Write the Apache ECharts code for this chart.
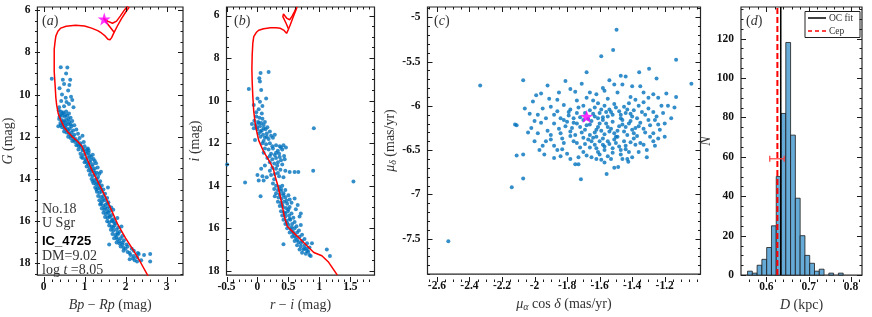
<!DOCTYPE html>
<html><head><meta charset="utf-8">
<script src="https://cdn.jsdelivr.net/npm/echarts@6/dist/echarts.min.js"></script>
<style>html,body{margin:0;padding:0;background:#fff}#c{width:872px;height:317px}</style>
</head><body><div id="c"></div>
<script>
// ---------- Panel (a): Gaia CMD ----------
const aStars = [
[0.2,9.25],[0.42,8.7],[0.58,8.72],[0.55,9.0],[0.47,9.3],[0.5,9.5],[0.63,9.55],[0.39,9.7],[0.6,9.8],[0.67,10.1],[0.54,10.15],[0.7,10.25],[0.43,10.3],[0.62,10.45],[0.5,10.55],[0.38,10.6],[0.73,10.6],[0.56,10.35],[0.45,10.0],[0.65,9.3],
[0.37,10.75],[0.42,10.8],[0.48,10.85],[0.55,10.8],[0.62,10.9],[0.4,10.95],[0.45,11.0],[0.52,11.05],[0.58,11.0],[0.66,11.1],[0.38,11.15],[0.44,11.2],[0.5,11.25],[0.56,11.2],[0.63,11.3],[0.7,11.25],[0.41,11.35],[0.47,11.4],[0.53,11.45],[0.6,11.4],[0.68,11.5],[0.75,11.45],[0.36,11.5],[0.45,11.55],[0.51,11.6],[0.58,11.65],[0.64,11.6],[0.72,11.7],[0.8,11.65],[0.5,11.75],[0.56,11.8],[0.62,11.85],[0.68,11.8],[0.75,11.9],[0.84,11.85],[0.6,12.0],[0.66,12.05],[0.72,12.0],[0.78,12.1],[0.88,12.05],[0.95,11.95],[0.7,12.2],[0.77,12.25],[0.83,12.2],[0.9,12.3],[0.98,12.25],
[0.8,12.4],[0.86,12.45],[0.92,12.5],[1.0,12.45],[1.08,12.55],[0.85,12.6],[0.95,12.65],[1.02,12.7],[1.1,12.65],[0.9,12.8],[0.98,12.85],[1.05,12.8],[1.12,12.9],[1.2,12.85],[0.95,13.0],[1.02,13.05],[1.08,13.0],[1.15,13.1],[1.22,13.05],[1.0,13.2],[1.07,13.25],[1.13,13.2],[1.2,13.3],[1.28,13.25],[1.05,13.4],[1.12,13.45],[1.18,13.4],[1.25,13.5],[1.32,13.45],[1.1,13.6],[1.16,13.65],[1.22,13.6],[1.3,13.7],[1.4,13.65],
[1.13,13.8],[1.2,13.85],[1.26,13.8],[1.33,13.9],[1.17,14.0],[1.24,14.05],[1.3,14.0],[1.38,14.1],[1.22,14.2],[1.28,14.25],[1.35,14.2],[1.42,14.3],[1.26,14.4],[1.32,14.45],[1.38,14.4],[1.46,14.5],[1.57,14.4],[1.3,14.6],[1.36,14.65],[1.42,14.6],[1.5,14.7],[1.33,14.8],[1.4,14.85],[1.46,14.8],[1.55,14.9],[1.36,15.0],[1.43,15.05],[1.5,15.0],[1.58,15.1],
[1.38,15.2],[1.45,15.25],[1.52,15.2],[1.6,15.3],[1.42,15.4],[1.48,15.45],[1.55,15.4],[1.62,15.5],[1.7,15.45],[1.46,15.6],[1.52,15.65],[1.58,15.6],[1.66,15.7],[1.5,15.8],[1.56,15.85],[1.62,15.8],[1.7,15.9],[1.8,15.85],[1.55,16.0],[1.6,16.05],[1.67,16.0],[1.75,16.1],[1.6,16.2],[1.66,16.25],[1.73,16.2],[1.82,16.3],[1.9,16.25],[1.64,16.4],[1.7,16.45],[1.78,16.4],[1.86,16.5],[1.68,16.6],[1.75,16.65],[1.82,16.6],[1.92,16.7],
[1.72,16.8],[1.8,16.85],[1.88,16.8],[1.96,16.9],[1.78,17.0],[1.85,17.05],[1.93,17.0],[2.02,17.1],[1.6,17.1],[1.88,17.2],[1.95,17.25],[2.05,17.2],[2.15,17.3],[1.95,17.4],[2.05,17.45],[2.2,17.4],[2.3,17.5],[2.12,17.6],[2.2,17.65],[2.32,17.55],[2.45,17.6],[2.6,17.55],[2.22,17.85],[2.28,17.9],[2.38,17.85],[2.6,17.9],[2.1,17.8],
[0.46,10.9],[0.53,10.95],[0.39,11.05],[0.61,11.15],[0.48,11.3],[0.55,11.35],[0.42,11.45],[0.66,11.4],[0.54,11.55],[0.6,11.7],[0.67,11.95],[0.74,12.15],[0.84,12.35],[0.9,12.4],[0.97,12.6],[1.06,12.6],[0.92,12.95],[1.1,12.75],[1.16,12.95],[1.03,13.15],[1.25,13.15],[1.1,13.3],[1.17,13.55],[1.24,13.7],[1.36,13.75],[1.3,14.15],[1.2,14.1],[1.34,14.3],[1.4,14.5],[1.29,14.5],[1.45,14.95],[1.4,15.15],[1.56,15.15],[1.5,15.35],[1.65,15.35],[1.55,15.55],[1.6,15.75],[1.67,15.95],[1.72,16.05],[1.7,16.3],[1.8,16.55],[1.78,16.75],[1.85,16.95],[1.92,17.1],[2.0,17.3],[2.1,17.5],[2.28,17.7],[2.18,17.75]
];
const aIso = [[2.55,18.6],[2.38,18.0],[2.2,17.4],[2.0,16.8],[1.81,16.15],[1.65,15.45],[1.49,14.77],[1.33,14.15],[1.17,13.54],[1.05,13.0],[0.94,12.46],[0.82,12.2],[0.70,12.0],[0.58,11.75],[0.5,11.54],[0.42,11.2],[0.36,10.92],[0.32,10.5],[0.30,10.15],[0.28,9.5],[0.26,8.92],[0.26,8.3],[0.26,7.85],[0.28,7.5],[0.30,7.23],[0.35,7.0],[0.42,6.85],[0.55,6.76],[0.78,6.72],[1.0,6.75],[1.17,6.85],[1.32,6.97],[1.41,7.08],[1.5,7.22],[1.57,7.38],[1.62,7.4],[1.66,7.3],[1.72,7.05],[1.8,6.75],[1.9,6.4],[2.0,6.1],[2.09,5.85]];
const aIsoLoop = [[1.72,7.05],[1.62,6.8],[1.52,6.55],[1.46,6.38],[1.56,6.52],[1.68,6.62],[1.78,6.52],[1.87,6.28],[1.97,6.0],[2.05,5.8]];
const aCep = [[1.48,6.42]];
const aXTicks = [0,1,2,3];
const aYTicks = [6,8,10,12,14,16,18];

// ---------- Panel (b): r-i CMD ----------
const bStars = [
[0.05,8.7],[0.18,8.65],[0.03,8.95],[0.04,9.1],[-0.14,9.45],[0.06,9.5],[0.0,9.9],[0.04,10.05],[-0.06,10.2],[0.08,10.25],[0.02,10.4],[-0.02,10.55],[0.07,10.6],[0.91,11.3],[0.14,9.9],
[-0.02,10.75],[0.03,10.8],[0.08,10.85],[-0.05,10.95],[0.01,11.0],[0.06,11.05],[0.12,11.0],[-0.09,11.1],[-0.03,11.15],[0.04,11.2],[0.1,11.15],[0.16,11.25],[-0.06,11.3],[0.0,11.35],[0.07,11.4],[0.13,11.35],[0.2,11.45],[0.02,11.55],[0.09,11.6],[0.15,11.55],[0.22,11.65],[0.05,11.7],[0.12,11.75],[0.18,11.8],[0.25,11.75],[-0.04,11.85],[0.1,11.9],[0.28,11.6],
[0.08,12.0],[0.14,12.05],[0.2,12.0],[0.3,12.1],[0.36,12.15],[0.42,12.1],[0.46,12.2],[0.12,12.25],[0.18,12.3],[0.25,12.25],[0.33,12.35],[0.4,12.3],[0.1,12.45],[0.22,12.5],[0.28,12.55],[0.35,12.5],[0.43,12.6],[0.16,12.7],[0.24,12.75],[0.3,12.7],[0.38,12.8],[0.44,12.75],[0.2,12.9],[0.27,12.95],[0.33,12.9],[0.4,13.0],[0.12,13.05],[0.06,13.2],[0.24,13.15],[0.3,13.2],[0.37,13.25],[0.45,13.3],[0.52,13.35],[0.6,13.35],[0.66,13.35],[0.9,13.3],[-0.49,13.0],[0.0,13.5],[0.08,13.55],[0.15,13.6],[0.22,13.5],[0.28,13.45],[0.35,13.55],[0.42,13.6],[-0.2,13.85],[0.02,13.75],[0.1,13.75],[0.27,13.7],[1.55,13.8],[0.25,13.9],[0.05,14.5],
[0.3,14.0],[0.35,14.05],[0.4,14.0],[0.27,14.15],[0.33,14.2],[0.38,14.25],[0.45,14.2],[0.3,14.35],[0.36,14.4],[0.42,14.35],[0.5,14.45],[0.34,14.55],[0.39,14.6],[0.45,14.55],[0.52,14.65],[0.6,14.6],[0.33,14.75],[0.38,14.8],[0.43,14.75],[0.48,14.85],[0.55,14.8],[0.36,14.95],[0.41,15.0],[0.46,15.05],[0.52,15.0],[0.62,15.1],[0.38,15.2],[0.43,15.25],[0.49,15.2],[0.55,15.3],[0.4,15.4],[0.45,15.45],[0.51,15.4],[0.58,15.5],[0.68,15.45],[0.42,15.6],[0.47,15.65],[0.53,15.6],[0.6,15.7],[0.45,15.8],[0.5,15.85],[0.56,15.8],[0.63,15.9],[0.7,15.85],[0.48,16.0],[0.54,16.05],[0.6,16.0],[0.67,16.1],[0.52,16.2],[0.58,16.25],[0.64,16.2],[0.72,16.3],[0.56,16.4],[0.62,16.45],[0.68,16.4],[0.76,16.5],[0.6,16.6],[0.66,16.65],[0.72,16.6],[0.8,16.7],[0.42,16.75],[0.64,16.8],[0.7,16.85],[0.76,16.8],[0.84,16.9],[0.68,17.0],[0.74,17.0],[0.8,17.05],[0.72,17.15],[0.78,17.2],[0.84,17.25],[1.12,17.0],[1.17,17.3],[0.88,16.7],[0.28,14.5],[0.65,14.9],[0.7,15.3],
[0.02,11.05],[-0.01,11.25],[0.1,11.3],[0.05,11.45],[0.15,11.7],[0.24,12.15],[0.38,12.2],[0.3,12.45],[0.2,12.6],[0.36,12.65],[0.32,13.05],[0.2,13.3],[0.33,13.4],[0.38,14.15],[0.42,14.45],[0.47,14.7],[0.4,14.9],[0.5,15.1],[0.45,15.3],[0.52,15.55],[0.55,15.95],[0.6,16.35],[0.64,16.55],[0.7,16.7],[0.76,16.95],[0.82,17.1],[0.79,16.95],[0.86,17.3],[0.48,15.75],[0.57,16.15]
];
const bIso = [[1.29,18.2],[1.15,17.6],[1.04,17.29],[0.91,17.14],[0.75,16.68],[0.6,16.25],[0.48,15.9],[0.43,15.4],[0.40,14.92],[0.36,14.4],[0.33,14.0],[0.28,13.5],[0.26,13.24],[0.22,13.0],[0.18,12.79],[0.10,12.4],[0.02,11.87],[-0.015,11.41],[-0.04,11.0],[-0.06,10.5],[-0.075,9.8],[-0.085,9.13],[-0.09,8.5],[-0.085,7.85],[-0.075,7.3],[-0.06,6.99],[-0.02,6.8],[0.02,6.69],[0.1,6.62],[0.21,6.58],[0.3,6.58],[0.37,6.6],[0.43,6.7],[0.47,6.84],[0.5,6.65],[0.53,6.43],[0.58,6.05],[0.62,5.75],[0.64,5.6]];
const bIsoLoop = [[0.5,6.62],[0.46,6.35],[0.41,6.05],[0.42,5.93],[0.47,6.12],[0.52,6.2],[0.56,6.03],[0.6,5.8],[0.63,5.6]];
const bXTicks = [-0.5,0,0.5,1,1.5];
const bYTicks = [6,8,10,12,14,16,18];

// ---------- Panel (c): proper motions ----------
const cStars = [
[-1.496,-5.14],[-1.517,-5.37],[-1.59,-5.44],[-1.13,-5.48],[-1.296,-5.58],[-1.357,-5.62],[-1.68,-5.62],[-1.036,-5.75],[-2.334,-5.77],[-2.07,-5.71],[-2.12,-6.21],[-2.11,-6.56],[-2.07,-6.55],[-2.07,-6.82],[-2.14,-6.92],[-2.53,-7.53],[-1.715,-6.83],[-1.73,-6.66],[-1.557,-6.77],[-1.486,-6.69],[-1.424,-6.63],
[-1.81,-5.72],[-1.25,-5.69],[-1.54,-5.71],[-1.58,-5.8],[-1.47,-5.66],[-1.44,-5.67],[-1.40,-5.78],[-1.46,-5.76],[-1.75,-5.84],[-1.78,-5.81],[-1.92,-5.77],[-1.96,-5.86],[-1.66,-5.85],[-1.62,-5.87],[-1.51,-5.76],[-1.35,-5.78],[-1.27,-5.87],[-1.19,-5.86],[-1.13,-5.9],[-1.57,-5.83],[-1.86,-5.93],[-1.74,-5.94],[-1.68,-5.91],[-1.41,-5.9],[-1.3,-5.91],[-1.24,-5.91],[-2.01,-5.95],[-1.91,-5.92],
[-2.06,-6.03],[-1.98,-6.1],[-1.9,-6.01],[-1.86,-6.06],[-1.82,-5.99],[-1.78,-6.04],[-1.74,-6.08],[-1.7,-6.0],[-1.66,-6.05],[-1.63,-6.02],[-1.6,-6.08],[-1.57,-6.0],[-1.54,-6.04],[-1.51,-5.98],[-1.48,-6.06],[-1.45,-6.01],[-1.42,-5.97],[-1.39,-6.05],[-1.36,-6.0],[-1.33,-5.96],[-1.3,-6.03],[-1.27,-6.07],[-1.22,-6.0],[-1.18,-6.0],[-1.16,-6.14],[-1.25,-6.12],[-1.32,-6.1],[-1.4,-6.12],[-1.47,-6.14],[-1.52,-6.1],[-1.58,-6.13],[-1.63,-6.12],[-1.72,-6.13],[-1.79,-6.11],[-1.84,-6.14],[-1.93,-6.14],[-2.03,-6.09],[-1.56,-6.07],[-1.44,-6.08],[-1.61,-5.97],
[-2.11,-6.22],[-2.02,-6.25],[-1.96,-6.19],[-1.92,-6.28],[-1.88,-6.2],[-1.84,-6.31],[-1.8,-6.18],[-1.77,-6.25],[-1.74,-6.2],[-1.71,-6.3],[-1.68,-6.22],[-1.65,-6.17],[-1.62,-6.27],[-1.6,-6.2],[-1.57,-6.32],[-1.55,-6.24],[-1.52,-6.18],[-1.49,-6.28],[-1.46,-6.21],[-1.43,-6.33],[-1.41,-6.17],[-1.38,-6.25],[-1.35,-6.19],[-1.32,-6.3],[-1.29,-6.22],[-1.26,-6.16],[-1.23,-6.27],[-1.2,-6.2],[-1.78,-6.34],[-1.66,-6.33],[-1.5,-6.35],[-1.37,-6.34],[-1.85,-6.26],[-1.7,-6.16],[-1.58,-6.16],[-1.44,-6.24],[-1.3,-6.16],[-1.98,-6.31],[-1.62,-6.35],[-1.54,-6.29],
[-2.0,-6.4],[-1.95,-6.45],[-1.9,-6.38],[-1.86,-6.5],[-1.82,-6.42],[-1.76,-6.4],[-1.72,-6.47],[-1.67,-6.38],[-1.63,-6.44],[-1.6,-6.4],[-1.57,-6.5],[-1.54,-6.43],[-1.51,-6.38],[-1.48,-6.46],[-1.45,-6.4],[-1.42,-6.52],[-1.39,-6.37],[-1.35,-6.42],[-1.31,-6.5],[-1.27,-6.4],[-1.24,-6.37],[-1.94,-6.55],[-1.8,-6.54],[-1.6,-6.55],[-1.7,-6.52],[-1.52,-6.53],[-1.38,-6.44],[-1.66,-6.47],[-1.58,-6.37],
[-1.88,-6.59],[-1.84,-6.57],[-1.78,-6.6],[-1.65,-6.58],[-1.59,-6.61],[-1.55,-6.57],[-1.51,-6.7],[-1.46,-6.6],[-1.43,-6.6],[-1.75,-6.66],
[-1.79,-6.07],[-1.76,-6.14],[-1.73,-6.02],[-1.69,-6.08],[-1.67,-6.15],[-1.64,-6.09],[-1.61,-6.14],[-1.59,-6.04],[-1.55,-6.12],[-1.53,-6.07],[-1.5,-6.02],[-1.47,-6.1],[-1.43,-6.04],[-1.41,-6.09],[-1.37,-6.14],[-1.34,-6.07],[-1.81,-6.23],[-1.78,-6.29],[-1.75,-6.33],[-1.72,-6.24],[-1.69,-6.27],[-1.66,-6.21],[-1.63,-6.3],[-1.61,-6.24],[-1.59,-6.28],[-1.56,-6.2],[-1.53,-6.26],[-1.51,-6.31],[-1.48,-6.23],[-1.45,-6.29],[-1.42,-6.2],[-1.4,-6.27],[-1.36,-6.23],[-1.33,-6.26],[-1.27,-6.31],[-1.74,-6.42],[-1.69,-6.43],[-1.65,-6.4],[-1.62,-6.48],[-1.58,-6.44],[-1.55,-6.4],[-1.5,-6.42],[-1.47,-6.5],[-1.44,-6.45],[-1.41,-6.41],[-1.33,-6.44],[-1.29,-6.35],[-1.88,-6.1],[-1.95,-6.03],[-2.0,-6.17],[-1.9,-6.33],[-1.83,-6.37],[-1.88,-6.45],[-1.93,-6.4],[-1.97,-6.5],[-2.04,-6.3],[-1.99,-5.88],[-1.85,-5.85],[-1.71,-5.75],[-1.64,-5.94],[-1.55,-5.92],[-1.49,-5.85],[-1.38,-5.93],[-1.33,-5.85],[-1.21,-6.08],[-1.14,-6.02],[-1.24,-6.21],[-1.2,-6.35],[-1.26,-6.45],[-1.31,-6.58],[-1.36,-6.52],[-1.4,-6.58],[-1.47,-6.55],[-1.53,-6.6],[-1.61,-6.52],[-1.68,-6.56],[-1.73,-6.58],[-1.83,-6.49],[-1.62,-6.6],[-1.57,-6.64],[-1.44,-6.49],[-1.49,-6.35],[-1.46,-6.16],[-1.39,-6.31],[-1.64,-6.36],[-1.7,-6.36],[-1.76,-6.19],[-1.82,-6.16],[-1.52,-6.48],[-1.57,-6.46]
];
const cCep = [[-1.68,-6.12]];
const cXTicks = [-2.6,-2.4,-2.2,-2,-1.8,-1.6,-1.4,-1.2];
const cYTicks = [-7.5,-7,-6.5,-6,-5.5,-5];

// ---------- Panel (d): distance histogram ----------
const dBinStart = [0.5555,0.5668,0.5781,0.5894,0.6007,0.612,0.6233,0.6346,0.6459,0.6572,0.6685,0.6798,0.6911,0.7024,0.7137,0.725,0.7363,0.7476,0.7589,0.7702];
const dCounts   = [2,1,5,8,14,25,50,82,118,71,39,20,10,6,2,3,0,1,0,1];
const dBinWidth = 0.0113;
const dOcFit = 0.634;
const dCepD = 0.626;
const dCepErr = [0.608, 0.642];
const dErrY = 59;
const dXTicks = [0.6,0.7,0.8];
const dYTicks = [0,20,40,60,80,100,120];

// ---------- helpers ----------
const SERIF = '"Liberation Serif","Times New Roman",serif';
const SANS = '"Liberation Sans",Arial,sans-serif';
const INK = '#262626';
function steps(a, b, s) { const r = []; const n = Math.round((b - a) / s); for (let i = 0; i <= n; i++) r.push(+(a + i * s).toFixed(6)); return r; }
const richName = {
  i: { fontFamily: SERIF, fontStyle: 'italic', fontSize: 14, color: '#333' },
  s: { fontFamily: SERIF, fontStyle: 'italic', fontSize: 10, color: '#333', verticalAlign: 'bottom', padding: [6, 0, 0, 0] }
};
function axis(dim, grid, min, max, major, inverse, name, gap) {
  return {
    type: 'value', gridIndex: grid, min, max, inverse: !!inverse, silent: true,
    position: dim === 'x' ? 'bottom' : 'left',
    splitLine: { show: false }, axisLine: { show: false, onZero: false }, axisTick: { show: false },
    name, nameLocation: 'middle', nameGap: gap, nameRotate: dim === 'y' ? 90 : 0,
    nameTextStyle: { fontFamily: SERIF, fontSize: 14, color: '#333', rich: richName },
    axisLabel: { show: true, customValues: major, margin: dim === 'x' ? 6 : 7, fontFamily: SERIF, fontWeight: 'bold', fontSize: 11.5, color: '#111', formatter: v => String(v) }
  };
}
const TOP = 7, H = 275;
const GRID_RECTS = [
  { left: 35, top: TOP, width: 148, height: H },
  { left: 226.5, top: TOP, width: 148, height: H },
  { left: 427.5, top: TOP, width: 273, height: H },
  { left: 741, top: TOP, width: 121, height: H }
];
const grids = GRID_RECTS.map(g => Object.assign({}, g, { show: true, borderColor: INK, borderWidth: 1.2, backgroundColor: 'transparent' }));

const aX = [-0.15, 3.4], aY = [5.85, 18.55];
const bX = [-0.5, 1.89], bY = [5.6, 18.2];
const cX = [-2.658, -0.98], cY = [-7.9, -4.884];
const dX = [0.54, 0.826], dY = [0, 136];

const xAxes = [
  axis('x', 0, aX[0], aX[1], aXTicks, false, '{i|Bp} − {i|Rp} (mag)', 13),
  axis('x', 1, bX[0], bX[1], bXTicks, false, '{i|r} − {i|i} (mag)', 13),
  axis('x', 2, cX[0], cX[1], cXTicks, false, '{i|μ}{s|α} cos {i|δ} (mas/yr)', 13),
  axis('x', 3, dX[0], dX[1], dXTicks, false, '{i|D} (kpc)', 13)
];
const yAxes = [
  axis('y', 0, aY[0], aY[1], aYTicks, true, '{i|G} (mag)', 20),
  axis('y', 1, bY[0], bY[1], bYTicks, true, '{i|i} (mag)', 24),
  axis('y', 2, cY[0], cY[1], cYTicks, false, '{i|μ}{s|δ} (mas/yr)', 26),
  axis('y', 3, dY[0], dY[1], dYTicks, false, '{i|N}', 28)
];

// tick marks on all four box sides, positioned through each axis' own scale
function frameTicks(chart, g, xMaj, xMin, yMaj, yMin) {
  const r = GRID_RECTS[g];
  const L = r.left, T = r.top, R = r.left + r.width, B = r.top + r.height;
  const out = [];
  const snap = v => Math.round(v) + 0.5;
  const ln = (x1, y1, x2, y2) => out.push({ type: 'line', silent: true, z: 50, shape: { x1, y1, x2, y2 }, style: { stroke: '#1a1a1a', lineWidth: 1 } });
  const xt = (v, len) => { const px = snap(chart.convertToPixel({ xAxisIndex: g }, v)); if (px < L + 1 || px > R - 1) return; ln(px, B, px, B - len); ln(px, T, px, T + len); };
  const yt = (v, len) => { const py = snap(chart.convertToPixel({ yAxisIndex: g }, v)); if (py < T + 1 || py > B - 1) return; ln(L, py, L + len, py); ln(R, py, R - len, py); };
  xMin.forEach(v => xt(v, 2.5)); xMaj.forEach(v => xt(v, 5));
  yMin.forEach(v => yt(v, 2.5)); yMaj.forEach(v => yt(v, 5));
  return out;
}

const BLUE = '#0072BD', RED = '#FF0000', MAG = '#FF00FF';
const STAR = 'path://M0,-10L2.35,-3.24L9.51,-3.09L3.8,1.24L5.88,8.09L0,4L-5.88,8.09L-3.8,1.24L-9.51,-3.09L-2.35,-3.24Z';
function scat(g, data) { return { type: 'scatter', xAxisIndex: g, yAxisIndex: g, data, symbolSize: 4, itemStyle: { color: BLUE }, z: 2, silent: true }; }
function curve(g, data) { return { type: 'line', xAxisIndex: g, yAxisIndex: g, data, showSymbol: false, lineStyle: { color: RED, width: 1.5 }, z: 3, silent: true, clip: true }; }
function star(g, data) { return { type: 'scatter', xAxisIndex: g, yAxisIndex: g, data, symbol: STAR, symbolSize: 13, itemStyle: { color: MAG }, z: 5, silent: true }; }

const series = [
  scat(0, aStars), curve(0, aIso), curve(0, aIsoLoop), star(0, aCep),
  scat(1, bStars), curve(1, bIso), curve(1, bIsoLoop),
  scat(2, cStars), star(2, cCep),
  {
    type: 'custom', xAxisIndex: 3, yAxisIndex: 3, silent: true, z: 2,
    data: dCounts.map((c, i) => [dBinStart[i], c]),
    encode: { x: 0, y: 1 },
    renderItem: (params, api) => {
      const x0 = api.value(0), c = api.value(1);
      if (!c) return null;
      const p0 = api.coord([x0, 0]), p1 = api.coord([x0 + dBinWidth, c]);
      return { type: 'rect', shape: { x: p0[0], y: p1[1], width: p1[0] - p0[0], height: p0[1] - p1[1] },
        style: { fill: '#66AAD7', stroke: '#1a1a1a', lineWidth: 0.8 } };
    }
  },
  { type: 'line', xAxisIndex: 3, yAxisIndex: 3, data: [[dOcFit, dY[0]], [dOcFit, dY[1]]], showSymbol: false, lineStyle: { color: '#000', width: 1.5 }, z: 4, silent: true },
  { type: 'line', xAxisIndex: 3, yAxisIndex: 3, data: [[dCepD, dY[0]], [dCepD, dY[1]]], showSymbol: false, lineStyle: { color: RED, width: 2, type: [6, 3] }, z: 5, silent: true },
  {
    type: 'custom', xAxisIndex: 3, yAxisIndex: 3, silent: true, z: 6,
    data: [[dCepErr[0], dCepErr[1], dErrY]],
    encode: { x: [0, 1], y: 2 },
    renderItem: (params, api) => {
      const a = api.coord([api.value(0), api.value(2)]), b = api.coord([api.value(1), api.value(2)]);
      return { type: 'group', children: [
        { type: 'line', shape: { x1: a[0], y1: a[1], x2: b[0], y2: b[1] }, style: { stroke: '#FF3B3B', lineWidth: 1.2 } },
        { type: 'line', shape: { x1: a[0], y1: a[1] - 3, x2: a[0], y2: a[1] + 3 }, style: { stroke: '#FF3B3B', lineWidth: 1.2 } },
        { type: 'line', shape: { x1: b[0], y1: b[1] - 3, x2: b[0], y2: b[1] + 3 }, style: { stroke: '#FF3B3B', lineWidth: 1.2 } }
      ] };
    }
  }
];

const txt = (x, y, text, extra) => ({ type: 'text', x, y, silent: true, style: Object.assign({ text, fontFamily: SERIF, fontSize: 14, fill: '#333', textVerticalAlign: 'middle' }, extra || {}) });
const panelRich = { i: { fontFamily: SERIF, fontStyle: 'italic', fontSize: 14, fill: '#333' } };
const graphic = [
  txt(42, 21, '({i|a})', { rich: panelRich }),
  txt(234, 21, '({i|b})', { rich: panelRich }),
  txt(434, 21, '({i|c})', { rich: panelRich }),
  txt(746, 21, '({i|d})', { rich: panelRich }),
  txt(42, 209, 'No.18'),
  txt(42, 223, 'U Sgr'),
  txt(42, 241, 'IC_4725', { fontFamily: SANS, fontWeight: 'bold', fontSize: 13, fill: '#000' }),
  txt(42, 256, 'DM=9.02'),
  txt(42, 270, 'log {i|t} =8.05', { rich: panelRich }),
  { type: 'rect', silent: true, shape: { x: 805, y: 11.5, width: 55, height: 26 }, style: { fill: '#fff', stroke: '#222', lineWidth: 1 }, z: 10 },
  { type: 'line', silent: true, shape: { x1: 808, y1: 18, x2: 826, y2: 18 }, style: { stroke: '#000', lineWidth: 1.5 }, z: 11 },
  { type: 'line', silent: true, shape: { x1: 808, y1: 31, x2: 826, y2: 31 }, style: { stroke: RED, lineWidth: 1.5, lineDash: [4, 3] }, z: 11 },
  Object.assign(txt(829, 18, 'OC fit', { fontSize: 9.5 }), { z: 11 }),
  Object.assign(txt(829, 31, 'Cep', { fontSize: 9.5 }), { z: 11 })
];

const chart = echarts.init(document.getElementById('c'), null, { renderer: 'canvas' });
chart.setOption({
  animation: false,
  backgroundColor: '#fff',
  grid: grids,
  xAxis: xAxes,
  yAxis: yAxes,
  series,
  graphic
});
// second pass: add box ticks using the axes' own pixel conversion
const tickEls = [].concat(
  frameTicks(chart, 0, aXTicks, steps(0, 3.4, 0.2), aYTicks, steps(6, 18.5, 0.5)),
  frameTicks(chart, 1, bXTicks, steps(-0.5, 1.8, 0.1), bYTicks, steps(6, 18, 0.5)),
  frameTicks(chart, 2, cXTicks, steps(-2.65, -1.0, 0.05), cYTicks, steps(-7.9, -4.9, 0.1)),
  frameTicks(chart, 3, dXTicks, steps(0.54, 0.82, 0.02), dYTicks, steps(0, 135, 5))
);
chart.setOption({ graphic: graphic.concat(tickEls) });
</script>
</body></html>
